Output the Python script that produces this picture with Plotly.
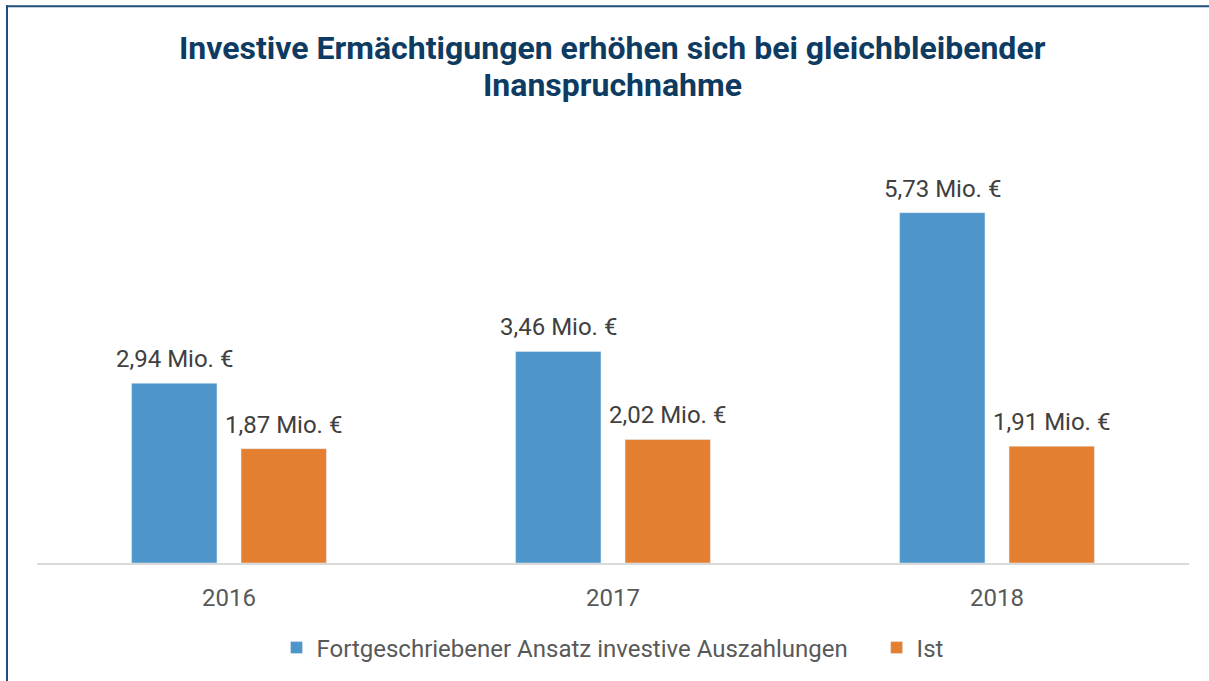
import plotly.graph_objects as go

years = ["2016", "2017", "2018"]
ansatz = [2.94, 3.46, 5.73]
ist = [1.87, 2.02, 1.91]
series_names = ["Fortgeschriebener Ansatz investive Auszahlungen", "Ist"]
title_lines = ["Investive Ermächtigungen erhöhen sich bei gleichbleibender", "Inanspruchnahme"]

def fmt(v):
    return f"{v:.2f}".replace(".", ",") + " Mio. €"

W, H = 1209, 681
L, R, T, B = 37, 20, 135, 117
pw, ph = W - L - R, H - T - B
BLUE, ORANGE = "#4E95C9", "#E37F2F"

fig = go.Figure()
fig.add_trace(go.Bar(x=years, y=ansatz, name=series_names[0] + "\u00a0" * 4, marker_color=BLUE))
fig.add_trace(go.Bar(x=years, y=ist, name=series_names[1], marker_color=ORANGE))

# value labels above bars (x given as category index)
slot = pw / len(years) * (1 - 0.43) / 2
for vals, sh in ((ansatz, -slot / 2), (ist, slot / 2)):
    for i, v in enumerate(vals):
        fig.add_annotation(x=i, y=v, xref="x", yref="y", text=fmt(v), showarrow=False,
                           xshift=sh, yshift=8, yanchor="bottom", xanchor="center",
                           font=dict(family="Roboto", size=24, color="#404040"))

def px_x(x):
    return (x - L) / pw

def px_y(y):
    return (H - B - y) / ph

# title lines as two centred annotations (tighter line spacing)
for line, yc in zip(title_lines, (48, 85)):
    fig.add_annotation(xref="paper", yref="paper", x=px_x(612), y=px_y(yc), text="<b>" + line + "</b>",
                       showarrow=False, xanchor="center", yanchor="middle",
                       font=dict(family="Roboto", size=32, color="#0E3B61"))

border = "#1F4E79"
fig.add_shape(type="line", xref="paper", yref="paper", x0=px_x(7), x1=px_x(7), y0=px_y(5), y1=px_y(700),
              line=dict(color=border, width=2))
fig.add_shape(type="line", xref="paper", yref="paper", x0=px_x(6), x1=px_x(1220), y0=px_y(6), y1=px_y(6),
              line=dict(color=border, width=2))

fig.update_layout(
    width=W, height=H,
    margin=dict(l=L, r=R, t=T, b=B),
    paper_bgcolor="white", plot_bgcolor="white",
    barmode="group", bargap=0.43, bargroupgap=0.22,
    font=dict(family="Roboto", color="#595959"),
    xaxis=dict(type="category", range=[-0.5, len(years) - 0.5], showline=True, linecolor="#D9D9D9",
               linewidth=2, ticks="", ticklabelstandoff=12,
               tickfont=dict(family="Roboto", size=24, color="#595959")),
    yaxis=dict(range=[0, 7], visible=False, showgrid=False, zeroline=False),
    showlegend=True,
    legend=dict(orientation="h", x=0.5, xanchor="center", y=px_y(648), yanchor="middle",
                font=dict(family="Roboto", size=24, color="#595959")),
)

fig.write_html("out.html", config={"displayModeBar": False},
               post_script="document.body.style.margin='0';document.body.style.overflow='hidden';")
